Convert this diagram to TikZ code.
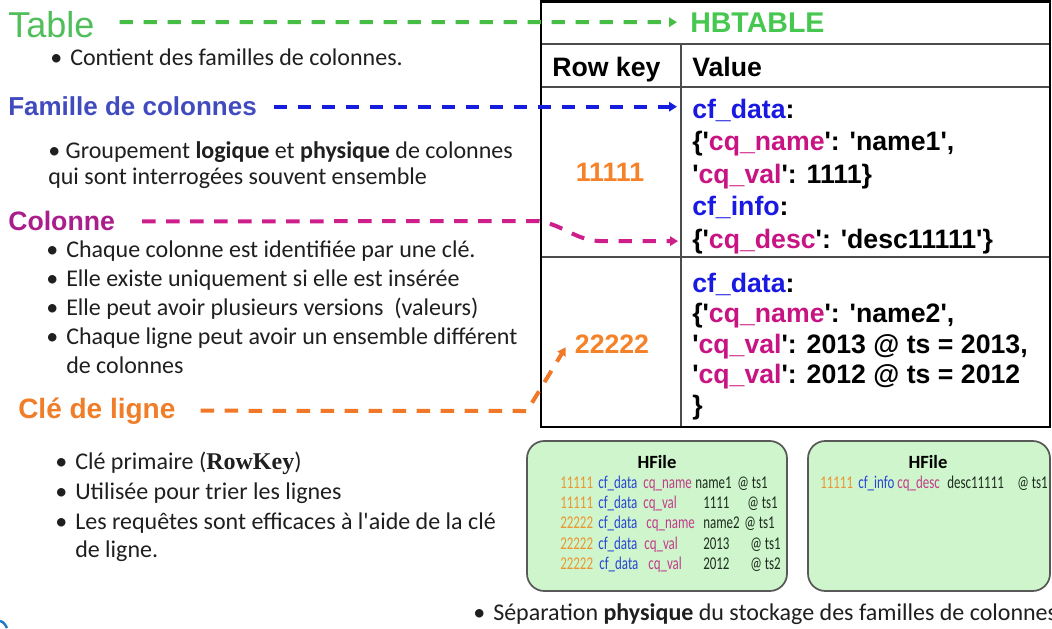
\documentclass[tikz,border=0pt]{standalone}
\usepackage{fontspec}
\setmainfont[Ligatures=TeXOff]{Carlito}
\newfontfamily\arialf[Ligatures=TeXOff]{Liberation Sans}
\newfontfamily\timesf{Liberation Serif}
\newfontfamily\hfont[Ligatures=TeXOff,FakeStretch=0.72]{Carlito}
\usetikzlibrary{arrows.meta,calc}
\definecolor{gLab}{RGB}{80,190,90}
\definecolor{gLine}{RGB}{70,190,70}
\definecolor{gHb}{RGB}{70,200,80}
\definecolor{bLab}{RGB}{65,75,190}
\definecolor{bLine}{RGB}{20,30,220}
\definecolor{bTxt}{RGB}{25,25,225}
\definecolor{mLab}{RGB}{170,30,140}
\definecolor{mLine}{RGB}{205,30,140}
\definecolor{mTxt}{RGB}{200,20,130}
\definecolor{oLab}{RGB}{240,125,40}
\definecolor{oLine}{RGB}{240,120,40}
\definecolor{oTxt}{RGB}{245,130,40}
\definecolor{hfill}{RGB}{206,245,204}
\definecolor{hkey}{RGB}{235,150,50}
\definecolor{hblue}{RGB}{40,70,210}
\definecolor{hpink}{RGB}{195,60,140}
\definecolor{hval}{RGB}{30,45,30}
\definecolor{arcblue}{RGB}{30,120,200}
\begin{document}
\begin{tikzpicture}[x=0.75pt,y=-0.75pt,
 lab/.style={anchor=base west,inner sep=0pt,font=\arialf\bfseries\fontsize{19.5}{23}\selectfont},
 bul/.style={anchor=base west,inner sep=0pt,font=\fontsize{18}{22}\selectfont,text=black!88},
 cell/.style={anchor=base west,inner sep=0pt,font=\arialf\bfseries\fontsize{20}{24}\selectfont},
 link/.style={line width=3pt,dash pattern=on 10pt off 8pt,-{Triangle[length=6pt,width=7pt]}},
 hbox/.style={draw=black!65,line width=1.3pt,fill=hfill,rounded corners=13pt,inner sep=0pt},
 hrow/.style={anchor=base west,inner sep=0pt,font=\hfont\fontsize{13.5}{16}\selectfont},
 htitle/.style={anchor=base,inner sep=0pt,font=\bfseries\fontsize{14}{16}\selectfont}
]
\fill[white] (0,0) rectangle (1052,628);
\useasboundingbox (0,0) rectangle (1052,628);

% ---------- left labels ----------
\node[anchor=base west,inner sep=0pt,font=\arialf\fontsize{27}{31}\selectfont,text=gLab] (tbl) at (8,37) {Table};
\node[bul] (b1) at (70,65) {\llap{•\hspace{6pt}}Contient des familles de colonnes.};

\node[lab,text=bLab] (fam) at (8,115) {Famille de colonnes};
\node[bul] (b2) at (48,158) {• Groupement \textbf{logique} et \textbf{physique} de colonnes};
\node[bul] (b2b) at (48,184) {qui sont interrogées souvent ensemble};

\node[lab,text=mLab,font=\arialf\bfseries\fontsize{20}{24}\selectfont] (col) at (8,230) {Colonne};
\node[bul] (b3) at (66,257) {\llap{•\hspace{6pt}}Chaque colonne est identifiée par une clé.};
\node[bul] (b4) at (66,286) {\llap{•\hspace{6pt}}Elle existe uniquement si elle est insérée};
\node[bul] (b5) at (66,315) {\llap{•\hspace{6pt}}Elle peut avoir plusieurs versions\ \ (valeurs)};
\node[bul] (b6) at (66,344) {\llap{•\hspace{6pt}}Chaque ligne peut avoir un ensemble différent};
\node[bul] (b7) at (66,373) {de colonnes};

\node[lab,text=oLab,font=\arialf\bfseries\fontsize{21}{25}\selectfont] (cle) at (18,418) {Clé de ligne};
\node[bul] (b8) at (75,469) {\llap{•\hspace{6pt}}Clé primaire ({\timesf\bfseries RowKey})};
\node[bul] (b9) at (75,499) {\llap{•\hspace{6pt}}Utilisée pour trier les lignes};
\node[bul] (b10) at (75,529) {\llap{•\hspace{6pt}}Les requêtes sont efficaces à l'aide de la clé};
\node[bul] (b11) at (75,557) {de ligne.};

\node[bul] (b12) at (493,620) {\llap{•\hspace{6pt}}Séparation \textbf{physique} du stockage des familles de colonnes};

% ---------- HBTABLE ----------
\draw[line width=1.4pt,black!70] (541,44) -- (1050,44) (541,87) -- (1050,87)
  (541,257) -- (1050,257) (681,44) -- (681,427);
\draw[line width=2.2pt] (541,1.5) rectangle (1050,427);

\node[cell,text=gHb,font=\arialf\bfseries\fontsize{21.4}{25}\selectfont] (hbt) at (690,32) {HBTABLE};
\node[cell] (rk) at (552,76) {Row key};
\node[cell] (val) at (692,76) {Value};
\node[cell,anchor=base,text=oTxt] (k1) at (610,181) {11111};
\node[cell,anchor=base,text=oTxt] (k2) at (612,353) {22222};

\node[cell] (v1) at (692,118) {\textcolor{bTxt}{cf\_data}:};
\node[cell] (v2) at (692,150.5) {\{'\textcolor{mTxt}{cq\_name}': 'name1',};
\node[cell] (v3) at (692,183) {'\textcolor{mTxt}{cq\_val}': 1111\}};
\node[cell] (v4) at (692,215.5) {\textcolor{bTxt}{cf\_info}:};
\node[cell] (v5) at (692,248) {\{'\textcolor{mTxt}{cq\_desc}': 'desc11111'\}};
\node[cell] (w1) at (692,292) {\textcolor{bTxt}{cf\_data}:};
\node[cell] (w2) at (692,322.5) {\{'\textcolor{mTxt}{cq\_name}': 'name2',};
\node[cell] (w3) at (692,353) {'\textcolor{mTxt}{cq\_val}': 2013 @ ts = 2013,};
\node[cell] (w4) at (692,383.5) {'\textcolor{mTxt}{cq\_val}': 2012 @ ts = 2012};
\node[cell] (w5) at (692,414) {\}};

% ---------- connectors ----------
\draw[link,gLine] ($(tbl.east)+(25,-2)$) -- ($(hbt.west)+(-13,0)$);
\draw[link,bLine] ($(fam.east)+(17,1)$) -- ($(fam.east -| v1.west)+(-15,1)$);
\coordinate (cb) at (538,221);
\coordinate (cc) at ($(v5.west)+(-90,0)$);
\draw[link,mLine] ($(col.east)+(27,1)$) -- (cb) to[out=-8,in=180] (cc) -- ($(v5.west)+(-14,0)$);
\coordinate (ob) at (527,411);
\draw[link,oLine] ($(cle.east)+(25,0)$) -- (ob) -- ($(k2.south west)+(-9,-6)$);

% ---------- HFiles ----------
\node[hbox,minimum width=195pt,minimum height=112.5pt] (hf1) at (657,516) {};
\node[hbox,minimum width=181.5pt,minimum height=112.5pt] (hf2) at (929,516) {};
\node[htitle] (ht1) at (657,468) {HFile};
\node[htitle] (ht2) at (928,468) {HFile};
\foreach \i/\yy/\kk/\cfx/\cqq/\cqx/\vv/\vx/\tss/\tx in {
  1/488/11111/598/cq\_name/643/name1/695/ts1/737,
  2/508/11111/598/cq\_val/643/1111/703/ts1/747,
  3/528.5/22222/598/cq\_name/646/name2/703/ts1/744,
  4/549/22222/598/cq\_val/644/2013/703/ts1/750,
  5/569/22222/599/cq\_val/648/2012/703/ts2/750}{
  \node[hrow,text=hkey] (hk\i) at (560,\yy) {\kk};
  \node[hrow,text=hblue] (hc\i) at (\cfx,\yy) {cf\_data};
  \node[hrow,text=hpink] (hq\i) at (\cqx,\yy) {\cqq};
  \node[hrow,text=hval] (hv\i) at (\vx,\yy) {\vv};
  \node[hrow,text=hval] (hs\i) at (\tx,\yy) {@ \tss};
}
\node[hrow,text=hkey] (hk6) at (820,488) {11111};
\node[hrow,text=hblue] (hc6) at (858,488) {cf\_info};
\node[hrow,text=hpink] (hq6) at (897,488) {cq\_desc};
\node[hrow,text=hval] (hv6) at (947,488) {desc11111};
\node[hrow,text=hval] (hs6) at (1017,488) {@ ts1};

% corner decoration
\draw[line width=1.8pt,arcblue] (0,621) to[out=-10,in=120] (7,628);
\end{tikzpicture}
\end{document}
